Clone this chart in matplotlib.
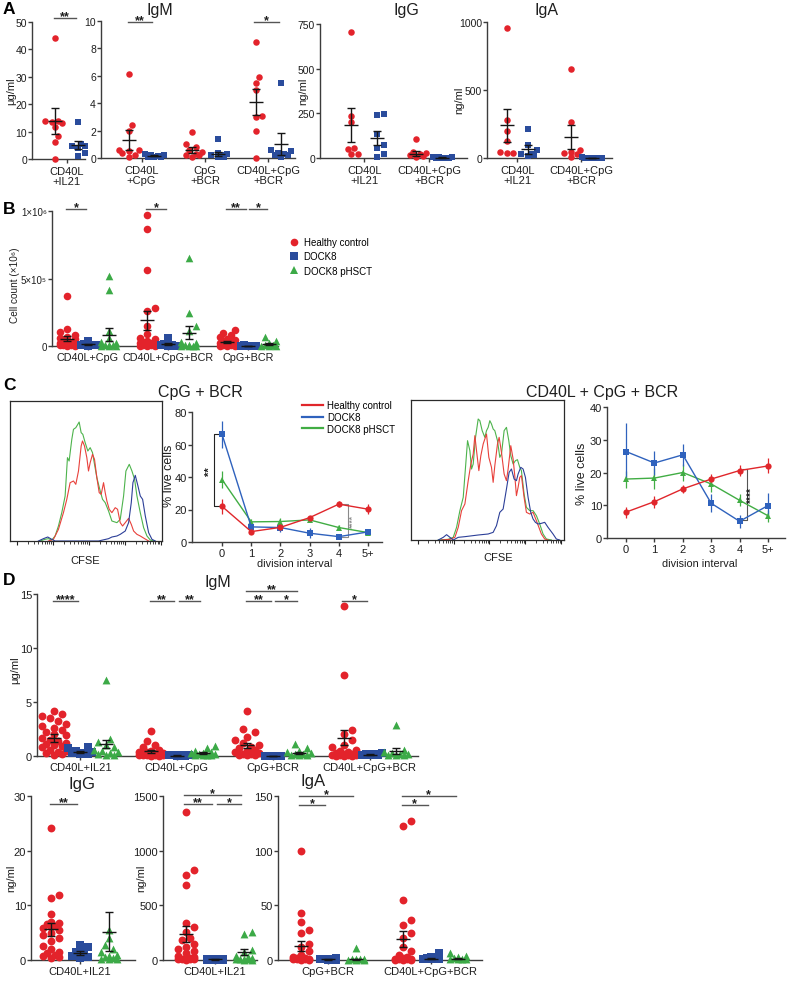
import numpy as np
import matplotlib
matplotlib.use("Agg")
import matplotlib.pyplot as plt
from matplotlib.lines import Line2D

plt.rcParams['font.family'] = ['Liberation Sans', 'DejaVu Sans']

# ======================= DATA =======================
series_names = ["Healthy control", "DOCK8", "DOCK8 pHSCT"]

# ---- Panel A ----
a1_groups = ["CD40L\n+IL21"]
a1_hc = [[44.2, 14.0, 13.8, 13.6, 13.3, 11.5, 8.5, 6.3, 0.1]]
a1_d8 = [[13.6, 5.3, 4.9, 4.6, 4.0, 2.2, 1.2]]
a1_mean = [[14.0], [5.1]]
a1_sem = [[4.7], [1.6]]

a2_groups = ["CD40L\n+CpG", "CpG\n+BCR", "CD40L+CpG\n+BCR"]
a2_hc = [[6.1, 2.4, 2.0, 0.6, 0.55, 0.5, 0.4, 0.2, 0.07],
         [1.9, 0.99, 0.8, 0.56, 0.44, 0.31, 0.24, 0.2, 0.1],
         [8.5, 5.9, 5.5, 5.0, 3.1, 3.0, 2.0, 0.0]]
a2_d8 = [[0.3, 0.25, 0.2, 0.15, 0.1, 0.1, 0.05],
         [1.4, 0.4, 0.31, 0.2, 0.2, 0.1, 0.05],
         [5.5, 0.55, 0.48, 0.4, 0.3, 0.2, 0.2, 0.1]]
a2_mean = [[1.33, 0.6, 4.1], [0.15, 0.3, 1.0]]
a2_sem = [[0.73, 0.2, 0.95], [0.04, 0.17, 0.8]]

a3_groups = ["CD40L\n+IL21", "CD40L+CpG\n+BCR"]
a3_hc = [[705, 235, 200, 55, 50, 25, 20], [106, 35, 30, 20, 15, 10, 5]]
a3_d8 = [[245, 242, 135, 75, 55, 25, 5], [4, 3, 3, 2, 2, 1, 1]]
a3_mean = [[185, 25], [112, 2.3]]
a3_sem = [[93, 12], [37, 0.5]]

a4_groups = ["CD40L\n+IL21", "CD40L+CpG\n+BCR"]
a4_hc = [[955, 280, 200, 125, 45, 40, 38], [654, 263, 61, 45, 35, 30, 5]]
a4_d8 = [[215, 98, 56, 30, 28, 20, 15], [4, 3, 3, 2, 2, 1, 1]]
a4_mean = [[240, 155], [66, 2.3]]
a4_sem = [[122, 90], [33, 0.5]]

# ---- Panel B (cell counts) ----
b_groups = ["CD40L+CpG", "CD40L+CpG+BCR", "CpG+BCR"]
b_hc = [[370e3, 126e3, 104e3, 85e3, 70e3, 60e3, 50e3, 40e3, 30e3, 25e3, 20e3, 15e3, 10e3, 10e3, 5e3, 5e3, 2e3, 1e3],
        [973e3, 864e3, 565e3, 281e3, 262e3, 150e3, 90e3, 60e3, 50e3, 40e3, 30e3, 25e3, 20e3, 15e3, 10e3, 5e3, 5e3, 3e3, 2e3, 1e3],
        [120e3, 100e3, 85e3, 70e3, 55e3, 45e3, 35e3, 28e3, 20e3, 15e3, 10e3, 8e3, 5e3, 3e3, 2e3, 1e3]]
b_d8 = [[35e3, 15e3, 10e3, 8e3, 5e3, 3e3],
        [57e3, 12e3, 8e3, 5e3, 3e3, 1e3],
        [5e3, 3e3, 2e3, 1e3, 1e3]]
b_ph = [[521e3, 417e3, 113e3, 60e3, 30e3, 20e3, 10e3, 5e3, 5e3, 3e3, 2e3, 1e3],
        [652e3, 244e3, 150e3, 113e3, 30e3, 20e3, 10e3, 5e3, 3e3, 2e3, 1e3, 1e3],
        [67e3, 40e3, 20e3, 10e3, 5e3, 3e3, 2e3, 1e3]]
b_mean = [[55e3, 190e3, 30e3], [12e3, 14e3, 2e3], [85e3, 100e3, 15e3]]
b_sem = [[18e3, 70e3, 8e3], [5e3, 8e3, 1e3], [48e3, 50e3, 8e3]]
b_yticks = [0, 5e5, 1e6]
b_yticklabels = ["0", "5×10⁵", "1×10⁶"]

# ---- Panel C: CFSE histograms (channel, count) ----
h1_green_x = [90, 105, 115, 125, 135, 145, 155, 165, 172, 177, 185, 190, 197, 203, 207, 213, 218, 225, 233, 240, 247, 253, 260, 270, 277, 285, 295, 305, 320, 330, 340, 347, 357, 365, 373, 380, 390, 400, 410, 420, 430]
h1_green_y = [0, 5, 7, 3, 15, 45, 85, 135, 250, 240, 305, 335, 340, 350, 357, 325, 320, 295, 270, 280, 265, 230, 190, 150, 125, 115, 90, 60, 55, 65, 135, 210, 230, 210, 185, 135, 85, 40, 15, 3, 0]
h1_red_x = [115, 130, 145, 160, 170, 180, 190, 197, 205, 213, 217, 223, 230, 235, 240, 247, 253, 260, 267, 273, 280, 285, 290, 297, 305, 315, 322, 330, 337, 345, 355, 363, 370, 380, 390, 403, 415]
h1_red_y = [0, 5, 35, 85, 125, 175, 180, 170, 210, 285, 300, 285, 250, 210, 235, 260, 245, 190, 145, 140, 175, 145, 120, 95, 85, 100, 95, 55, 45, 55, 68, 50, 30, 20, 15, 7, 0]
h1_blue_x = [85, 100, 113, 125, 135, 185, 265, 295, 305, 320, 330, 345, 355, 363, 368, 375, 383, 390, 397, 405, 415, 425, 435]
h1_blue_y = [0, 7, 12, 5, 0, 0, 0, 7, 12, 15, 20, 30, 55, 115, 175, 197, 165, 135, 125, 75, 25, 5, 0]

h2_green_x = [82, 112, 127, 137, 147, 157, 170, 177, 182, 187, 194, 202, 207, 214, 222, 227, 232, 237, 242, 247, 252, 260, 267, 272, 280, 287, 294, 300, 307, 314, 320, 327, 332, 340, 347, 357, 367, 377, 387, 397, 407, 422]
h2_green_y = [0, 2, 8, 38, 88, 128, 298, 268, 213, 228, 308, 363, 358, 328, 308, 328, 338, 358, 348, 333, 328, 298, 248, 258, 328, 338, 298, 253, 228, 238, 241, 218, 208, 138, 98, 88, 88, 73, 48, 18, 3, 0]
h2_red_x = [92, 117, 132, 142, 152, 162, 172, 180, 187, 192, 197, 204, 210, 217, 222, 227, 234, 242, 247, 252, 260, 265, 272, 280, 287, 292, 300, 307, 312, 317, 322, 327, 332, 340, 347, 357, 367, 377, 392, 402, 412]
h2_red_y = [0, 2, 8, 38, 88, 108, 178, 228, 258, 313, 268, 208, 253, 288, 303, 318, 248, 218, 173, 223, 288, 308, 263, 198, 178, 213, 283, 243, 193, 133, 158, 188, 193, 128, 83, 78, 83, 58, 18, 3, 0]
h2_blue_x = [82, 97, 107, 117, 127, 142, 162, 202, 232, 247, 257, 267, 277, 287, 295, 302, 310, 317, 322, 330, 337, 344, 352, 360, 367, 374, 382, 392, 402, 412, 427, 437, 447]
h2_blue_y = [0, 8, 16, 8, 0, 8, 10, 15, 18, 23, 43, 83, 93, 153, 203, 213, 183, 178, 198, 218, 213, 188, 128, 83, 63, 53, 48, 50, 53, 38, 18, 3, 0]

# ---- Panel C: division curves ----
div_labels = ["0", "1", "2", "3", "4", "5+"]
c1_hc_mean = [21.9, 6.4, 9.0, 15.0, 23.3, 20.2]
c1_hc_err = [4.4, 1.0, 1.5, 1.0, 2.0, 3.0]
c1_d8_mean = [66.2, 9.3, 8.9, 5.4, 3.3, 6.2]
c1_d8_err = [8.5, 2.0, 3.0, 3.0, 1.0, 1.0]
c1_ph_mean = [38.4, 12.4, 12.6, 13.6, 8.9, 5.8]
c1_ph_err = [5.0, 2.0, 2.0, 1.0, 1.5, 1.0]

c2_hc_mean = [7.9, 11.1, 15.0, 18.0, 20.6, 22.0]
c2_hc_err = [1.7, 1.8, 1.2, 1.5, 1.8, 2.3]
c2_d8_mean = [26.4, 22.9, 25.4, 10.6, 5.1, 9.9]
c2_d8_err = [8.7, 3.6, 3.4, 2.8, 2.0, 3.7]
c2_ph_mean = [18.0, 18.3, 20.0, 16.5, 11.5, 6.8]
c2_ph_err = [2.6, 3.2, 2.5, 2.5, 1.8, 1.8]

# ---- Panel D ----
d1_groups = ["CD40L+IL21", "CD40L+CpG", "CpG+BCR", "CD40L+CpG+BCR"]
d1_hc = [[4.2, 3.9, 3.7, 3.5, 3.2, 3.0, 2.8, 2.6, 2.4, 2.2, 2.0, 1.9, 1.7, 1.5, 1.4, 1.2, 1.1, 1.0, 0.9, 0.8, 0.6, 0.5, 0.4, 0.3, 0.2, 0.1],
         [2.3, 1.4, 1.0, 0.8, 0.6, 0.5, 0.4, 0.4, 0.3, 0.3, 0.2, 0.2, 0.15, 0.1, 0.1, 0.05, 0.05, 0.05, 0.02, 0.02],
         [4.2, 2.5, 2.2, 1.8, 1.5, 1.2, 1.0, 0.8, 0.7, 0.6, 0.5, 0.4, 0.3, 0.2, 0.2, 0.1, 0.1, 0.05],
         [13.9, 7.5, 2.4, 2.0, 1.5, 1.0, 0.8, 0.6, 0.5, 0.4, 0.3, 0.2, 0.2, 0.1, 0.1, 0.05, 0.05, 0.02, 0.02, 0.02]]
d1_d8 = [[0.8, 0.7, 0.5, 0.4, 0.3, 0.3, 0.2, 0.2],
         [0.08, 0.06, 0.05, 0.05, 0.04, 0.03],
         [0.02, 0.02, 0.02],
         [0.3, 0.2, 0.15, 0.1, 0.1, 0.05]]
d1_ph = [[7.0, 1.6, 1.3, 1.0, 0.8, 0.6, 0.5, 0.4, 0.3, 0.2, 0.1, 0.1],
         [0.9, 0.7, 0.5, 0.4, 0.3, 0.25, 0.2, 0.15, 0.1, 0.1, 0.05, 0.05],
         [1.1, 0.7, 0.5, 0.4, 0.3, 0.2, 0.15, 0.1, 0.1, 0.05],
         [2.9, 0.6, 0.4, 0.3, 0.2, 0.15, 0.1, 0.05, 0.05]]
d1_mean = [[1.7, 0.45, 1.0, 1.7], [0.35, 0.04, 0.02, 0.1], [1.1, 0.28, 0.25, 0.45]]
d1_sem = [[0.37, 0.13, 0.25, 0.7], [0.1, 0.01, 0.0, 0.04], [0.4, 0.08, 0.08, 0.25]]

d2_groups = ["CD40L+IL21"]
d2_hc = [[24.2, 11.8, 11.4, 8.5, 7.0, 6.8, 6.5, 6.2, 6.0, 5.8, 5.5, 5.0, 4.5, 4.0, 3.5, 2.5, 2.0, 1.5, 1.2, 1.0, 0.8, 0.5, 0.3]]
d2_d8 = [[2.8, 2.4, 1.5, 1.2, 0.8, 0.5, 0.3]]
d2_ph = [[5.5, 4.0, 2.8, 2.0, 1.5, 1.0, 0.8, 0.5, 0.3, 0.2, 0.1, 0.1]]
d2_mean = [[5.6], [1.3], [5.2]]
d2_sem = [[1.2], [0.35], [3.5]]

d3_groups = ["CD40L+IL21"]
d3_hc = [[1355, 820, 780, 690, 340, 300, 260, 200, 180, 150, 120, 100, 80, 60, 40, 30, 20, 15, 10, 5, 5, 5, 3]]
d3_d8 = [[10, 8, 6, 5, 5, 4, 3, 2]]
d3_ph = [[260, 240, 90, 70, 40, 30, 20, 10, 10, 5, 5, 3, 2]]
d3_mean = [[240], [5], [75]]
d3_sem = [[75], [1.5], [25]]

d4_groups = ["CpG+BCR", "CD40L+CpG+BCR"]
d4_hc = [[100, 43, 35, 27, 25, 15, 12, 8, 5, 3, 2, 2, 1, 1, 0.5, 0.5, 0.5, 0.2, 0.2],
         [127, 123, 55, 37, 32, 25, 20, 12, 8, 5, 3, 2, 1, 1, 0.5, 0.5, 0.5, 0.2, 0.2, 0.2]]
d4_d8 = [[1.5, 1, 1, 0.5, 0.5, 0.3, 0.2], [6, 3, 2, 1, 1, 0.5, 0.5]]
d4_ph = [[11, 1, 0.8, 0.5, 0.5, 0.3, 0.2, 0.1], [6, 4, 3, 2, 1, 1, 0.5, 0.5]]
d4_mean = [[12.5, 19], [0.5, 1.2], [0.7, 1.0]]
d4_sem = [[4.5, 7.5], [0.2, 0.5], [0.3, 0.4]]

# ======================= STYLE =======================
RED, BLUE, GREEN = '#e3232b', '#2a4c9c', '#3caa47'
LRED, LBLUE, LGREEN = '#e0262b', '#2f62bd', '#41ad44'
HRED, HBLUE, HGREEN = '#e8413c', '#2c3f98', '#4db34c'
COLORS = [RED, BLUE, GREEN]
MARKERS = ['o', 's', '^']
AX_C = '#3c3c3c'
TXT = '#1e1e1e'

W, H = 796, 987
fig = plt.figure(figsize=(W / 100, H / 100), dpi=100)


def axpx(l, t, r, b):
    return fig.add_axes([l / W, 1 - b / H, (r - l) / W, (b - t) / H])


def ftext(x, y, s, **kw):
    kw.setdefault('color', TXT)
    fig.text(x / W, 1 - y / H, s, **kw)


def style(ax, fs=7.5):
    for sp in ['top', 'right']:
        ax.spines[sp].set_visible(False)
    for sp in ['left', 'bottom']:
        ax.spines[sp].set_color(AX_C)
        ax.spines[sp].set_linewidth(1.0)
    ax.tick_params(colors=AX_C, labelcolor=TXT, labelsize=fs, width=1.0,
                   length=2.6, direction='out', pad=1.0)
    ax.patch.set_alpha(0)


def swarm(ax, xc, vals, d_px, maxw_px):
    vals = np.asarray(vals, float)
    pts = ax.transData.transform(np.column_stack([np.full(len(vals), xc), vals]))
    ys = pts[:, 1]
    ux = ax.transData.transform([(1, 0)])[0, 0] - ax.transData.transform([(0, 0)])[0, 0]
    step = d_px * 0.5
    cands = [0.0]
    k = 1
    while k * step <= maxw_px + 1e-9:
        cands += [k * step, -k * step]
        k += 1
    placed = []
    offs = np.zeros(len(vals))
    for i in np.argsort(ys):
        y = ys[i]
        best, bestd = 0.0, -1
        for c in cands:
            md = min((np.hypot(c - px, y - py) for px, py in placed), default=np.inf)
            if md >= d_px * 0.95:
                best = c
                break
            if md > bestd:
                bestd, best = md, c
        placed.append((best, y))
        offs[i] = best
    return xc + offs / ux


def xpos(g, s, ns, w):
    return g + (s - (ns - 1) / 2) * w


def dotpanel(ax, series, means, sems, w, size, d_px, maxw, ms=10, cap=3):
    ns = len(series)
    for g in range(len(series[0])):
        for s in range(ns):
            xc = xpos(g, s, ns, w)
            vals = series[s][g]
            xs = swarm(ax, xc, vals, d_px, maxw)
            ax.scatter(xs, vals, s=size, c=COLORS[s], marker=MARKERS[s],
                       linewidths=0, clip_on=False, zorder=3)
            ax.errorbar([xc], [means[s][g]], yerr=[sems[s][g]], fmt='_', ms=ms, mew=1.0,
                        color='#151515', ecolor='#151515', elinewidth=1.0, capsize=cap,
                        capthick=1.0, zorder=5, clip_on=False)


def sigs(ax, items, ns, w, fs=9):
    for g, s1, s2, y, lab in items:
        x1 = xpos(g, s1, ns, w) - 0.05 * w + (0.12 * w if s1 > 0 else 0)
        x2 = xpos(g, s2, ns, w) - 0.1 * w
        ax.plot([x1, x2], [y, y], color='#555555', lw=1.0, clip_on=False, zorder=6)
        ax.annotate(lab, xy=((x1 + x2) / 2, y), xytext=(0, 1.5), textcoords='offset points',
                    ha='center', va='center', fontsize=fs, fontweight='bold', color=TXT,
                    annotation_clip=False)


def cat_axis(ax, labels, xlim, ylim, yticks, yticklabels=None, fs=7.5, xfs=8):
    style(ax, fs)
    ax.set_xlim(*xlim)
    ax.set_ylim(*ylim)
    ax.set_yticks(yticks)
    if yticklabels is not None:
        ax.set_yticklabels(yticklabels)
    ax.set_xticks(range(len(labels)))
    ax.set_xticklabels(labels, fontsize=xfs, linespacing=1.05)
    ax.tick_params(axis='x', length=3, pad=2)


# ======================= PANEL A =======================
ftext(3, 10, "A", fontsize=12.5, fontweight='bold', ha='left', va='center', color='black')

wa = 0.4
axA1 = axpx(32, 23, 85, 160)
cat_axis(axA1, a1_groups, (-0.6, 0.32), (0, 50), [0, 10, 20, 30, 40, 50])
dotpanel(axA1, [a1_hc, a1_d8], a1_mean, a1_sem, wa, 22, 6.5, 10)
sigs(axA1, [(0, 0, 1, 51.5, '**')], 2, wa)
ftext(11, 91, "μg/ml", rotation=90, fontsize=8, ha='center', va='center')

axA2 = axpx(101, 22, 295, 159)
cat_axis(axA2, a2_groups, (-0.64, 2.42), (0, 10), [0, 2, 4, 6, 8, 10])
dotpanel(axA2, [a2_hc, a2_d8], a2_mean, a2_sem, wa, 22, 6.5, 10)
sigs(axA2, [(0, 0, 1, 9.9, '**'), (2, 0, 1, 9.9, '*')], 2, wa)
ftext(160, 10, "IgM", fontsize=11.5, ha='center', va='center')

axA3 = axpx(320, 25, 467, 159)
cat_axis(axA3, a3_groups, (-0.68, 1.58), (0, 750), [0, 250, 500, 750])
dotpanel(axA3, [a3_hc, a3_d8], a3_mean, a3_sem, wa, 22, 6.5, 10)
ftext(303, 91, "ng/ml", rotation=90, fontsize=8, ha='center', va='center')
ftext(406, 11, "IgG", fontsize=11.5, ha='center', va='center')

axA4 = axpx(487, 23, 612, 159)
cat_axis(axA4, a4_groups, (-0.47, 1.48), (0, 1000), [0, 500, 1000])
dotpanel(axA4, [a4_hc, a4_d8], a4_mean, a4_sem, 0.33, 22, 6.5, 10)
ftext(459, 100, "ng/ml", rotation=90, fontsize=8, ha='center', va='center')
ftext(546, 11, "IgA", fontsize=11.5, ha='center', va='center')

# ======================= PANEL B =======================
ftext(3, 210, "B", fontsize=12.5, fontweight='bold', ha='left', va='center', color='black')
wb = 0.26
axB = axpx(52, 212, 278, 347)
cat_axis(axB, b_groups, (-0.45, 2.375), (0, 1e6), b_yticks, b_yticklabels, fs=7, xfs=7.8)
axB.tick_params(axis='x', pad=1.5)
dotpanel(axB, [b_hc, b_d8, b_ph], b_mean, b_sem, wb, 30, 7.5, 11)
sigs(axB, [(0, 0, 1, 1.015e6, '*'), (1, 0, 1, 1.015e6, '*'),
           (2, 0, 1, 1.015e6, '**'), (2, 1, 2, 1.015e6, '*')], 3, wb)
ftext(15, 285, "Cell count (×10⁶)", rotation=90, fontsize=7.2, ha='center', va='center')
hB = [Line2D([0], [0], marker=m, ls='none', color=c, markersize=5.5, markeredgewidth=0)
      for m, c in zip(MARKERS, COLORS)]
axB.legend(hB, series_names, loc='upper left', bbox_to_anchor=(290 / W, 1 - 238 / H),
           bbox_transform=fig.transFigure, frameon=False, fontsize=7, handlelength=0.9,
           handletextpad=0.5, labelspacing=0.45, borderpad=0, borderaxespad=0)

# ======================= PANEL C =======================
ftext(3, 386, "C", fontsize=12.5, fontweight='bold', ha='left', va='center', color='black')


def hist_axis(ax, xmax, starts, width):
    ax.set_xlim(0, xmax)
    ax.set_ylim(0, 420)
    for sp in ax.spines.values():
        sp.set_color('#2a2a2a')
        sp.set_linewidth(0.9)
    major, minor = [], []
    for s0 in starts:
        major.append(s0)
        for k in range(2, 10):
            v = s0 + np.log10(k) * width
            if v < xmax:
                minor.append(v)
    ax.set_xticks(major)
    ax.set_xticks(minor, minor=True)
    ax.tick_params(axis='x', which='major', length=3, width=0.8, colors='#222', labelbottom=False)
    ax.tick_params(axis='x', which='minor', length=1.8, width=0.6, colors='#222')
    ax.set_yticks([])


axH1 = axpx(10, 402, 162, 542)
hist_axis(axH1, 455, [20, 128, 236, 344, 452], 108)
axH1.plot(h1_green_x, h1_green_y, color=HGREEN, lw=0.8)
axH1.plot(h1_red_x, h1_red_y, color=HRED, lw=0.8)
axH1.plot(h1_blue_x, h1_blue_y, color=HBLUE, lw=0.8)
ftext(85, 561, "CFSE", fontsize=8, ha='center', va='center')
ftext(200, 392, "CpG + BCR", fontsize=11.5, ha='center', va='center')

axH2 = axpx(411, 401, 564, 541)
hist_axis(axH2, 460, [20, 128, 236, 344, 452], 108)
axH2.plot(h2_green_x, h2_green_y, color=HGREEN, lw=0.8)
axH2.plot(h2_red_x, h2_red_y, color=HRED, lw=0.8)
axH2.plot(h2_blue_x, h2_blue_y, color=HBLUE, lw=0.8)
ftext(498, 558, "CFSE", fontsize=8, ha='center', va='center')
ftext(602, 392, "CD40L + CpG + BCR", fontsize=11.5, ha='center', va='center')


def line_axis(ax, xlim, ylim, yticks):
    style(ax, 8)
    ax.set_xlim(*xlim)
    ax.set_ylim(*ylim)
    ax.set_yticks(yticks)
    ax.set_xticks(range(len(div_labels)))
    ax.set_xticklabels(div_labels)
    ax.tick_params(axis='x', pad=2)


def draw_lines(ax, specs):
    x = np.arange(len(div_labels))
    for mean, err, col, mk in specs:
        ax.errorbar(x, mean, yerr=err, color=col, marker=mk, ms=4.5, mew=0, lw=1.0,
                    elinewidth=0.9, capsize=2.2, capthick=0.9, clip_on=False)


axL1 = axpx(192, 413, 382, 543)
line_axis(axL1, (-1.03, 5.48), (0, 80), [0, 20, 40, 60, 80])
draw_lines(axL1, [(c1_ph_mean, c1_ph_err, LGREEN, '^'), (c1_d8_mean, c1_d8_err, LBLUE, 's'),
                  (c1_hc_mean, c1_hc_err, LRED, 'o')])
axL1.plot([-0.07, -0.27, -0.27, -0.07], [66.2, 66.2, 21.9, 21.9], color='#222', lw=0.8, clip_on=False)
axL1.text(-0.42, 44, '**', rotation=90, ha='center', va='center', fontsize=8, fontweight='bold', color=TXT)
axL1.plot([4.12, 4.3, 4.3, 4.12], [23.3, 23.3, 3.3, 3.3], color='#8a8a8a', lw=0.8, clip_on=False)
axL1.text(4.47, 13, '****', rotation=90, ha='center', va='center', fontsize=6, fontweight='bold', color='#8a8a8a')
ftext(169, 476, "% live cells", rotation=90, fontsize=9, ha='center', va='center')
ftext(295, 564, "division interval", fontsize=7.8, ha='center', va='center')
hC = [Line2D([0], [0], color=c, lw=1.6) for c in (LRED, LBLUE, LGREEN)]
axL1.legend(hC, ["Healthy control", "DOCK8", "DOCK8 pHSCT"], loc='upper left',
            bbox_to_anchor=(302 / W, 1 - 401 / H), bbox_transform=fig.transFigure,
            frameon=False, fontsize=7, handlelength=2.2, handletextpad=0.4,
            labelspacing=0.2, borderpad=0, borderaxespad=0)

axL2 = axpx(607, 408, 785, 539)
line_axis(axL2, (-0.67, 5.6), (0, 40), [0, 10, 20, 30, 40])
draw_lines(axL2, [(c2_ph_mean, c2_ph_err, LGREEN, '^'), (c2_d8_mean, c2_d8_err, LBLUE, 's'),
                  (c2_hc_mean, c2_hc_err, LRED, 'o')])
axL2.plot([4.12, 4.26, 4.26, 4.12], [21, 21, 5.5, 5.5], color='#555', lw=0.8, clip_on=False)
axL2.text(4.45, 13, '****', rotation=90, ha='center', va='center', fontsize=7.5, fontweight='bold', color=TXT)
ftext(582, 474, "% live cells", rotation=90, fontsize=9, ha='center', va='center')
ftext(700, 564, "division interval", fontsize=7.8, ha='center', va='center')

# ======================= PANEL D =======================
ftext(3, 581, "D", fontsize=12.5, fontweight='bold', ha='left', va='center', color='black')
wd = 0.27
axD1 = axpx(37, 595, 418, 757)
cat_axis(axD1, d1_groups, (-0.45, 3.5), (0, 15), [0, 5, 10, 15], fs=8, xfs=8)
axD1.tick_params(axis='x', pad=1.5)
dotpanel(axD1, [d1_hc, d1_d8, d1_ph], d1_mean, d1_sem, wd, 32, 8, 12, ms=10, cap=3)
sigs(axD1, [(0, 0, 1, 14.35, '****'), (1, 0, 1, 14.35, '**'), (1, 1, 2, 14.35, '**'),
            (2, 0, 1, 14.35, '**'), (2, 1, 2, 14.35, '*'), (2, 0, 2, 15.3, '**'),
            (3, 0, 1, 14.35, '*')], 3, wd)
ftext(15, 670, "μg/ml", rotation=90, fontsize=8, ha='center', va='center')
ftext(218, 582, "IgM", fontsize=11.5, ha='center', va='center')

axD2 = axpx(31, 797, 135, 961)
cat_axis(axD2, d2_groups, (-0.51, 0.57), (0, 30), [0, 10, 20, 30], fs=8, xfs=8)
axD2.tick_params(axis='x', pad=1.5)
dotpanel(axD2, [d2_hc, d2_d8, d2_ph], d2_mean, d2_sem, 0.3, 32, 8, 11)
sigs(axD2, [(0, 0, 1, 28.5, '**')], 3, 0.3)
ftext(11, 878, "ng/ml", rotation=90, fontsize=8, ha='center', va='center')
ftext(82, 785, "IgG", fontsize=12, ha='center', va='center')

axD3 = axpx(163, 797, 257, 961)
cat_axis(axD3, d3_groups, (-0.53, 0.43), (0, 1500), [0, 500, 1000, 1500], fs=8, xfs=8)
axD3.tick_params(axis='x', pad=1.5)
dotpanel(axD3, [d3_hc, d3_d8, d3_ph], d3_mean, d3_sem, 0.3, 32, 8, 11)
sigs(axD3, [(0, 0, 1, 1427, '**'), (0, 1, 2, 1427, '*'), (0, 0, 2, 1509, '*')], 3, 0.3)
ftext(141, 878, "ng/ml", rotation=90, fontsize=8, ha='center', va='center')

axD4 = axpx(278, 797, 482, 961)
cat_axis(axD4, d4_groups, (-0.49, 1.5), (0, 150), [0, 50, 100, 150], fs=8, xfs=8)
axD4.tick_params(axis='x', pad=1.5)
dotpanel(axD4, [d4_hc, d4_d8, d4_ph], d4_mean, d4_sem, wd, 32, 8, 11)
sigs(axD4, [(0, 0, 1, 141.8, '*'), (0, 0, 2, 150, '*'), (1, 0, 1, 141.8, '*'),
            (1, 0, 2, 150, '*')], 3, wd)
ftext(313, 782, "IgA", fontsize=12, ha='center', va='center')

fig.savefig("out.png", dpi=100)
